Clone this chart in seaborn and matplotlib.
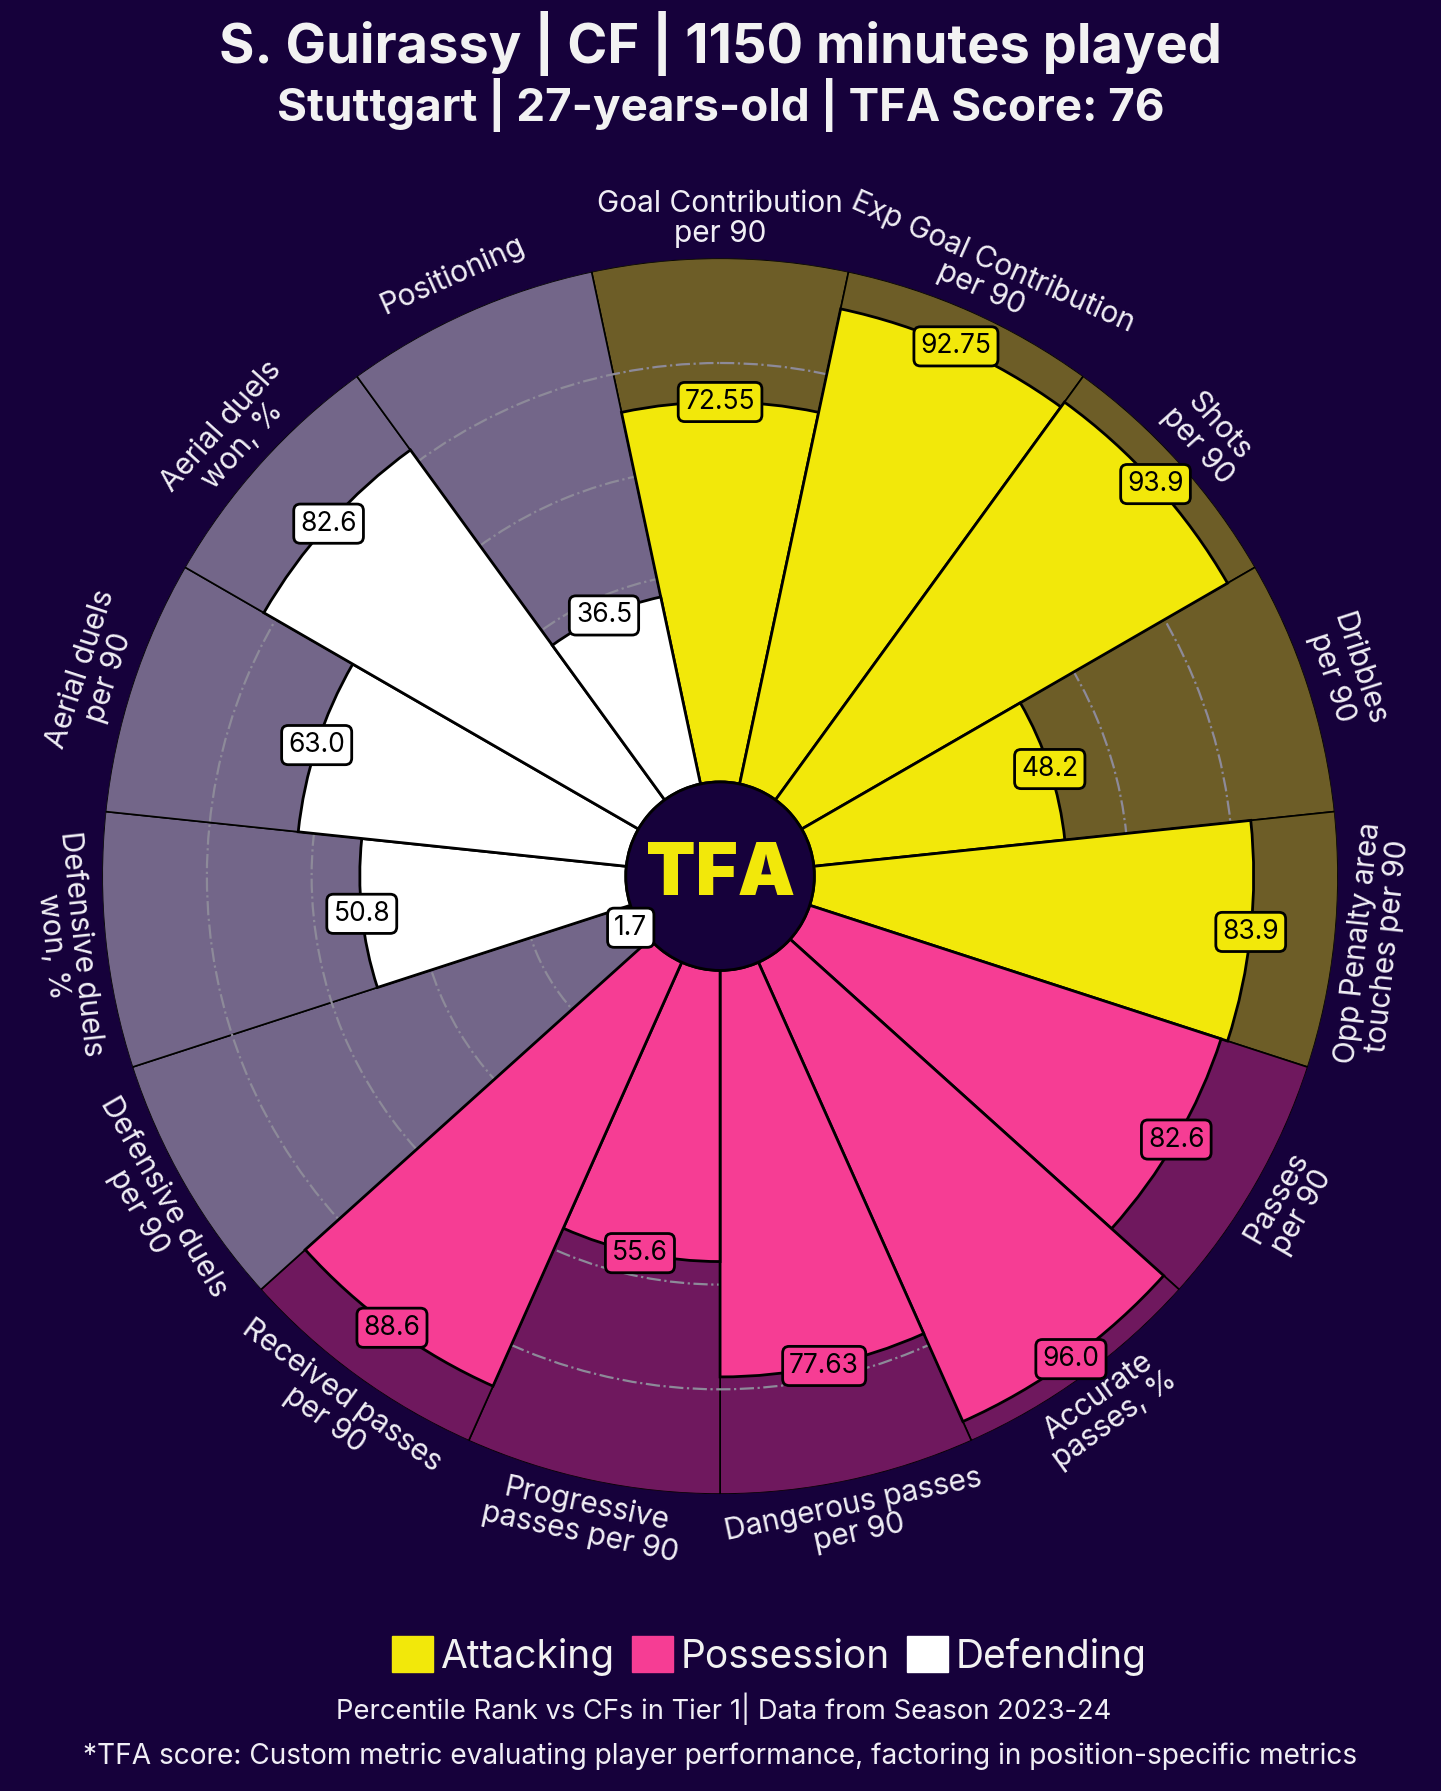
import numpy as np
import seaborn as sns
import matplotlib.pyplot as plt
from matplotlib.patches import Patch, Circle
from matplotlib.colors import to_rgba

# percentile ranks, clockwise from the top
params = ["Goal Contribution\nper 90", "Exp Goal Contribution\nper 90", "Shots\nper 90",
          "Dribbles\nper 90", "Opp Penalty area\ntouches per 90", "Passes\nper 90",
          "Accurate\npasses, %", "Dangerous passes\nper 90", "Progressive\npasses per 90",
          "Received passes\nper 90", "Defensive duels\nper 90", "Defensive duels\nwon, %",
          "Aerial duels\nper 90", "Aerial duels\nwon, %", "Positioning"]
values = [72.55, 92.75, 93.9, 48.2, 83.9, 82.6, 96.0, 77.63, 55.6, 88.6, 1.7, 50.8, 63.0, 82.6, 36.5]
groups = ["Attacking"] * 5 + ["Possession"] * 5 + ["Defending"] * 5
group_names = ["Attacking", "Possession", "Defending"]

bg = "#16013b"
txt = "#f0eef5"
palette = dict(zip(group_names, sns.color_palette(["#f2e80a", "#f63d94", "#ffffff"])))

sns.set_theme(style="white", rc={"figure.facecolor": bg, "axes.facecolor": bg})
plt.rcParams["font.family"] = ["Inter", "DejaVu Sans"]

n = len(values)
theta = np.arange(n) * 2 * np.pi / n
width = 2 * np.pi / n
inner = 18
cols = [palette[g] for g in groups]

fig = plt.figure(figsize=(14.41, 17.91), dpi=100)
ax = fig.add_axes([0.0708, 0.1658, 0.8578, 0.690], projection="polar")
ax.set_theta_zero_location("N")
ax.set_theta_direction(-1)
ax.set_ylim(0, 100 + inner)
ax.spines["polar"].set_visible(False)
ax.set_xticks([])
ax.set_yticks([inner + 20, inner + 40, inner + 60, inner + 80])
ax.set_yticklabels([])
ax.xaxis.grid(False)
ax.yaxis.grid(True, color="#8d8a99", linestyle="-.", linewidth=1.6)
ax.set_axisbelow("line")

# background slices and value slices
ax.bar(theta, [100] * n, width=width, bottom=inner,
       color=[to_rgba(c, 0.4) for c in cols], edgecolor="black", linewidth=1.2, zorder=1)
ax.bar(theta, values, width=width, bottom=inner,
       color=cols, edgecolor="black", linewidth=2, zorder=2)

ax.add_patch(Circle((0.5, 0.5), inner / (100 + inner) / 2, transform=ax.transAxes,
                    facecolor=bg, edgecolor="black", linewidth=2, zorder=4))
ax.text(0.5, 0.5, "TFA", transform=ax.transAxes, ha="center", va="center",
        fontsize=52, fontweight="black", color=palette["Attacking"], zorder=5)

for i, (th, v, c) in enumerate(zip(theta, values, cols)):
    ax.text(th, v + inner, str(v), ha="center", va="center", fontsize=19, color="black",
            bbox=dict(boxstyle="round,pad=0.25", fc=c, ec="black", lw=2), zorder=6)
    rot = -i * 360 / n
    rot = (rot + 180) % 360 - 180
    if rot > 90:
        rot -= 180
    elif rot < -90:
        rot += 180
    ax.text(th, 125.5, params[i], ha="center", va="center", rotation=rot,
            rotation_mode="anchor", fontsize=21.5, color=txt, linespacing=1.05,
            clip_on=False)

fig.text(0.5, 1 - 43 / 1791, "S. Guirassy | CF | 1150 minutes played", ha="center",
         va="center", fontsize=39, fontweight="bold", color="#f2f2f2")
fig.text(0.5, 1 - 105 / 1791, "Stuttgart | 27-years-old | TFA Score: 76", ha="center",
         va="center", fontsize=33, fontweight="bold", color="#f2f2f2")

handles = [Patch(facecolor=palette[g], edgecolor=palette[g]) for g in group_names]
fig.legend(handles, group_names, loc="center", bbox_to_anchor=(0.534, 1 - 1656 / 1791),
           ncol=3, frameon=False, fontsize=28, handlelength=1.05, handleheight=1.05,
           handletextpad=0.2, columnspacing=0.45, labelcolor="#f2f2f2")
fig.text(0.502, 1 - 1709 / 1791, "Percentile Rank vs CFs in Tier 1| Data from Season 2023-24",
         ha="center", va="center", fontsize=19.7, color=txt)
fig.text(0.5, 1 - 1756 / 1791,
         "*TFA score: Custom metric evaluating player performance, factoring in position-specific metrics",
         ha="center", va="center", fontsize=20.2, color=txt)

fig.savefig("out.png", dpi=100, facecolor=bg)
